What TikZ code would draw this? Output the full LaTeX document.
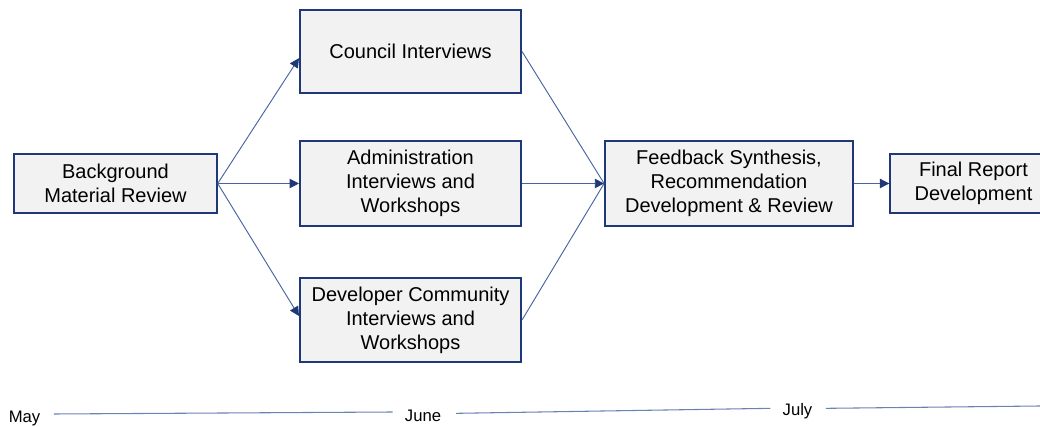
\documentclass[tikz,border=0pt]{standalone}
\usepackage{fontspec}
\setmainfont{Liberation Sans}
\usepackage{tikz}
\usetikzlibrary{arrows.meta}
\usetikzlibrary{positioning}
\definecolor{navy}{RGB}{31,56,120}
\definecolor{lnblue}{RGB}{70,100,160}
\definecolor{boxfill}{RGB}{242,242,242}
\tikzset{>=latex}
\tikzstyle{task} = [rectangle, draw=navy, line width=1.3pt, fill=boxfill, align=center, font=\fontsize{15}{18}\selectfont]
\tikzstyle{flow} = [-{Triangle[length=7pt, width=7pt, color=navy]}, draw=lnblue, line width=0.7pt]
\tikzstyle{month} = [draw=none, inner sep=0, font=\fontsize{12.5}{14}\selectfont]
\tikzstyle{span} = [-, draw=lnblue!80, line width=0.8pt]

\begin{document}
\begin{tikzpicture}[x=0.75pt, y=-0.75pt]
\useasboundingbox (0,0) rectangle (1040,427);
% tasks
\node [task, minimum width=152pt, minimum height=44pt] (B) at (115.5, 183.5) {Background\\Material Review};
\node [task, minimum width=166pt, minimum height=62pt] (C) at (410.5, 51.5) {Council Interviews};
\node [task, minimum width=166pt, minimum height=64pt] (A) at (410.5, 183.5) {Administration\\Interviews and\\Workshops};
\node [task, minimum width=166pt, minimum height=63pt] (D) at (410.5, 320) {Developer Community\\Interviews and\\Workshops};
\node [task, minimum width=186pt, minimum height=64pt] (F) at (729, 183.5) {Feedback Synthesis,\\Recommendation\\Development \& Review};
% runs past the right edge of the page
\node [task, minimum width=125pt, minimum height=44pt] (R) at (973.5, 183.5) {Final Report\\Development};
% fan out and back in
\draw [flow] (B.east) to ([yshift=-5pt]C.west);
\draw [flow] (B.east) to (A.west);
\draw [flow] (B.east) to ([yshift=3pt]D.west);
\draw [draw=lnblue, line width=0.7pt] (C.east) to (F.west);
\draw [flow] (A.east) to (F.west);
\draw [draw=lnblue, line width=0.7pt] (D.east) to (F.west);
\draw [flow] (F.east) to (R.west);
%timeline
\node [month] (may) at (24.5, 418) {May};
\node [month] (jun) at (423, 416) {June};
\node [month] (jul) at (797.5, 411) {July};
\coordinate (tend) at (1040, 406);
\draw [span] ([xshift=10pt, yshift=3pt]may.east) to ([xshift=-9pt, yshift=3pt]jun.west);
\draw [span] ([xshift=11pt, yshift=2pt]jun.east) to ([xshift=-9pt, yshift=2pt]jul.west);
\draw [span] ([xshift=10pt, yshift=2pt]jul.east) to (tend);
\end{tikzpicture}
\end{document}
